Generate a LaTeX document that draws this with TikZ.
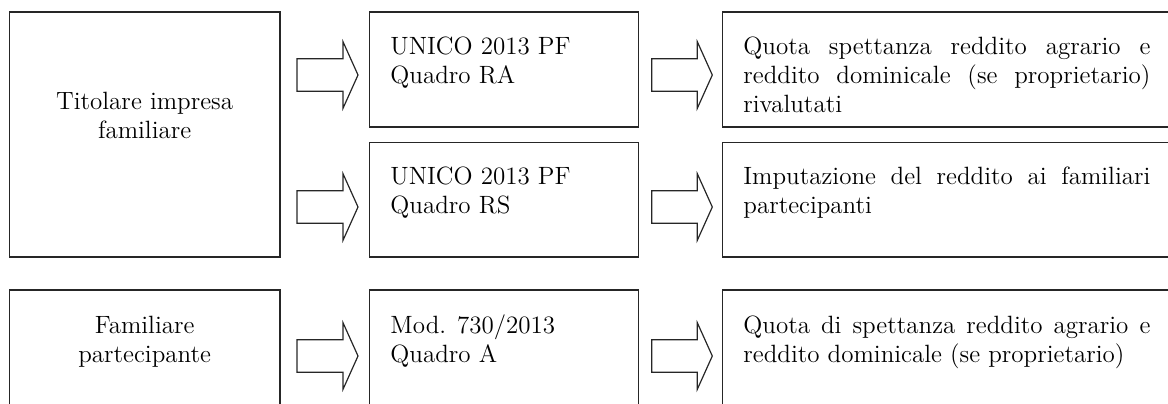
\documentclass[tikz,border=0pt]{standalone}
\usetikzlibrary{fit}
\newcommand\txtfont{\fontsize{12.5pt}{14.5pt}\selectfont}
\newcommand\blockarrow[3]{%
  \draw[blk] (#1,#3-16.3) -- (#2-15,#3-16.3) -- (#2-15,#3-33.3) -- (#2,#3)
    -- (#2-15,#3+33.3) -- (#2-15,#3+16.3) -- (#1,#3+16.3) -- cycle;}
\begin{document}
\begin{tikzpicture}[x=0.5pt,y=-0.5pt,
  box/.style={draw=black!85, line width=0.65pt, inner sep=0pt},
  blk/.style={draw=black!85, line width=0.6pt, line join=miter},
  txt/.style={inner sep=0pt, anchor=base west, font=\txtfont}]
\useasboundingbox (0,0) rectangle (1168,403);
\clip (0,0) rectangle (1168,403);
% boxes
\node[box, fit={(9.3,12) (280,257)}] (tit) {};
\node[box, fit={(9.3,290) (280,430)}] (fam) {};
\node[box, fit={(369.3,12) (638.3,127)}] (ra) {};
\node[box, fit={(369.3,142.3) (638.3,257)}] (rs) {};
\node[box, fit={(369.3,290) (638.3,430)}] (mod) {};
\node[box, fit={(722.3,12) (1171,127)}] (q1) {};
\node[box, fit={(722.3,142.3) (1171,257)}] (imp) {};
\node[box, fit={(722.3,290) (1171,430)}] (q2) {};
% texts
\node[txt, anchor=base] (ttit) at (144.65,109.3) {\parbox[t]{130pt}{\txtfont\centering Titolare impresa\\familiare}};
\node[txt, anchor=base] (tfam) at (144.65,333.3) {\parbox[t]{130pt}{\txtfont\centering Familiare\\partecipante}};
\node[txt] (tra) at (390,54.3) {\parbox[t]{130pt}{\txtfont UNICO 2013 PF\\Quadro RA}};
\node[txt] (trs) at (390,184.3) {\parbox[t]{130pt}{\txtfont UNICO 2013 PF\\Quadro RS}};
\node[txt] (tmod) at (390,333.3) {\parbox[t]{130pt}{\txtfont Mod. 730/2013\\Quadro A}};
\node[txt] (tq1) at (743,54.3) {\parbox[t]{203.5pt}{\txtfont Quota spettanza reddito agrario e\linebreak reddito dominicale (se proprietario)\linebreak rivalutati}};
\node[txt] (timp) at (743,184.3) {\parbox[t]{203.5pt}{\txtfont Imputazione del reddito ai familiari\linebreak partecipanti}};
\node[txt] (tq2) at (743,333.3) {\parbox[t]{203.5pt}{\txtfont Quota di spettanza reddito agrario e reddito dominicale (se proprietario)}};
% block arrows
\blockarrow{297}{358}{75}
\blockarrow{297}{358}{207}
\blockarrow{297}{358}{356}
\blockarrow{651.7}{712.3}{75}
\blockarrow{651.7}{712.3}{207}
\blockarrow{651.7}{712.3}{356}
\end{tikzpicture}
\end{document}
